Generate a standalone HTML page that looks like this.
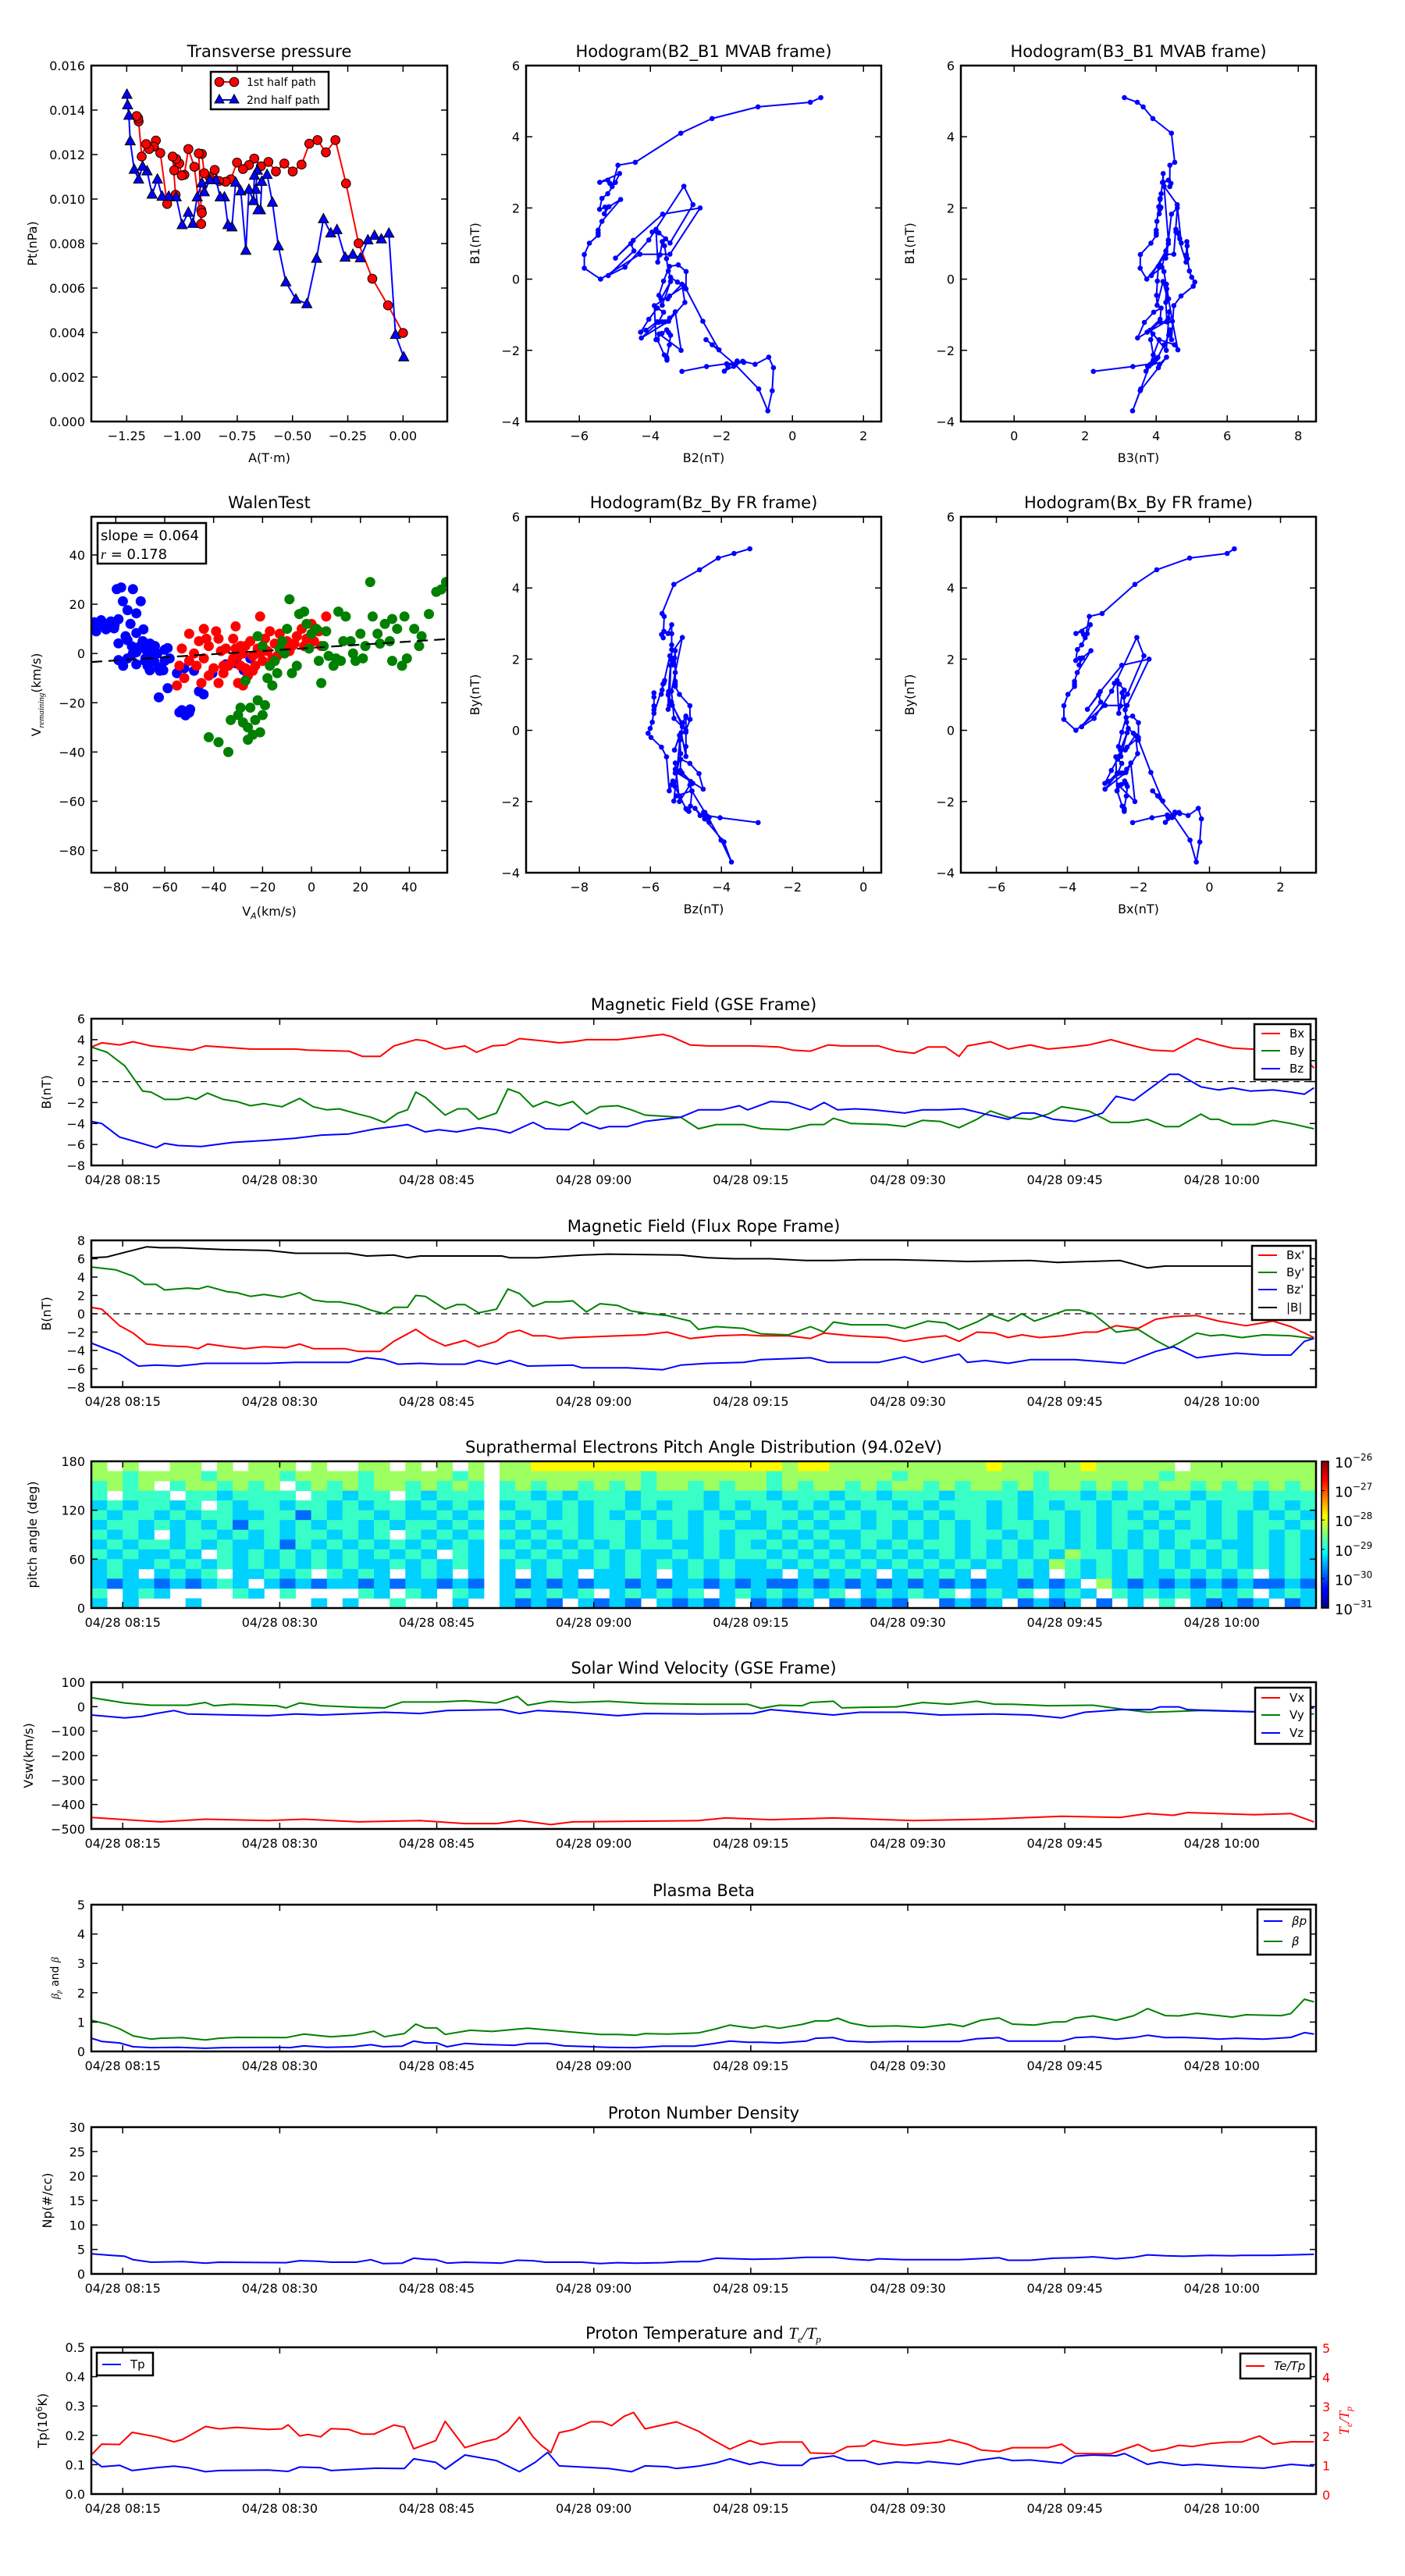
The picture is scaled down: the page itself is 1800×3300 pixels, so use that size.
<!DOCTYPE html>
<html><head><meta charset="utf-8"><title>Flux rope analysis</title>
<style>
html,body{margin:0;padding:0;background:#fff;}
svg{display:block;font-family:"DejaVu Sans","Liberation Sans",sans-serif;}
</style></head>
<body>
<svg id="fig" xmlns="http://www.w3.org/2000/svg" width="1800" height="3300" viewBox="0 0 1800 3300">
<defs id="defs">
<linearGradient id="jetGrad" x1="0" y1="1" x2="0" y2="0">
<stop offset="0" stop-color="#000080"/><stop offset="0.11" stop-color="#0000ff"/><stop offset="0.125" stop-color="#0000ff"/>
<stop offset="0.34" stop-color="#00d0ff"/><stop offset="0.375" stop-color="#00ffff"/><stop offset="0.5" stop-color="#80ff80"/>
<stop offset="0.625" stop-color="#ffff00"/><stop offset="0.75" stop-color="#ff8000"/><stop offset="0.875" stop-color="#ff0000"/><stop offset="1" stop-color="#800000"/>
</linearGradient>
</defs>
<rect x="0" y="0" width="1800" height="3300" fill="#fff"/>
</svg>
<script>
// ---------------- DATA ----------------
// time series: [minutes after 08:12, value]
const gseBx=[[0,3.3],[1,3.7],[2.7,3.5],[4,3.8],[5.7,3.4],[9.6,3.0],[10.9,3.4],[15.2,3.1],[19.5,3.1],[20.7,3.0],[24.6,2.9],[25.9,2.4],[27.6,2.4],[28.9,3.4],[31,4.0],[31.9,3.9],[33.8,3.1],[35.7,3.4],[36.8,2.8],[38.3,3.4],[39.6,3.5],[40.9,4.1],[43,3.9],[44.7,3.7],[46,3.8],[47.3,4.0],[50.3,4.0],[54.6,4.5],[55.4,4.3],[57.2,3.5],[58.9,3.4],[61.4,3.4],[63.2,3.4],[65.7,3.3],[67,3.0],[68.7,2.9],[70.4,3.5],[71.7,3.4],[75.2,3.4],[76.9,2.9],[78.6,2.7],[79.9,3.3],[81.6,3.3],[82.9,2.4],[83.7,3.4],[85.9,3.8],[87.6,3.1],[89.7,3.5],[91.4,3.1],[93.6,3.3],[95.3,3.5],[97.4,4.0],[99.6,3.4],[101.3,3.0],[103.4,2.9],[105.6,4.1],[107.7,3.5],[109,3.2],[110.7,3.1],[114.6,3.1],[115.9,2.2],[116.8,1.3]];
const gseBy=[[0,3.3],[1.5,2.8],[3.2,1.5],[4.9,-0.9],[5.7,-1.0],[7,-1.7],[8.3,-1.7],[9.2,-1.5],[10,-1.7],[11.1,-1.1],[12.6,-1.7],[13.9,-1.9],[15.2,-2.3],[16.5,-2.1],[18.2,-2.4],[19.9,-1.6],[21.2,-2.4],[22.5,-2.7],[23.7,-2.6],[25.5,-3.1],[26.7,-3.4],[28,-3.9],[29.3,-3.0],[30.2,-2.7],[31,-1.0],[31.9,-1.5],[33.8,-3.2],[35,-2.6],[35.9,-2.6],[37,-3.6],[38.7,-3.0],[39.8,-0.7],[40.9,-1.1],[42.2,-2.4],[43.4,-1.9],[44.7,-2.3],[46,-1.9],[47.3,-3.1],[48.6,-2.4],[50.3,-2.3],[51.6,-2.7],[52.9,-3.2],[54.6,-3.3],[56.3,-3.4],[58,-4.5],[59.7,-4.1],[62.3,-4.1],[64,-4.5],[66.6,-4.6],[68.7,-4.1],[70,-4.1],[70.9,-3.5],[72.6,-4.0],[76,-4.1],[77.7,-4.3],[79.4,-3.7],[81.1,-3.8],[82.9,-4.4],[84.6,-3.6],[85.9,-2.8],[87.6,-3.4],[89.7,-3.6],[91.4,-3.1],[92.7,-2.4],[94,-2.6],[95.3,-2.8],[97.4,-3.9],[99.1,-3.9],[100.9,-3.6],[102.6,-4.3],[103.9,-4.3],[106,-3.1],[106.9,-3.6],[107.7,-3.6],[109,-4.1],[111.1,-4.1],[112.9,-3.7],[114.6,-4.0],[116.8,-4.5]];
const gseBz=[[0,-3.8],[1,-4.0],[2.7,-5.3],[4.5,-5.8],[6.2,-6.3],[7,-5.9],[8.3,-6.1],[10.5,-6.2],[13.5,-5.8],[16.9,-5.6],[19.5,-5.4],[22,-5.1],[24.6,-5.0],[27.2,-4.5],[28.9,-4.3],[30.2,-4.1],[31.9,-4.8],[33.2,-4.6],[34.9,-4.8],[37,-4.4],[38.7,-4.6],[40,-4.9],[42.2,-3.9],[43.4,-4.5],[45.6,-4.6],[46.9,-3.9],[48.6,-4.5],[49.4,-4.3],[51.2,-4.3],[52.9,-3.8],[54.6,-3.6],[56.3,-3.4],[58,-2.7],[60.2,-2.7],[61.9,-2.3],[62.7,-2.7],[64.9,-1.9],[66.6,-2.0],[68.7,-2.7],[70,-2.0],[71.3,-2.7],[73,-2.6],[74.7,-2.7],[77.7,-3.0],[79.4,-2.7],[81.1,-2.7],[83.3,-2.6],[85.4,-3.1],[87.6,-3.6],[88.9,-3.0],[90.1,-3.0],[91.9,-3.6],[94,-3.8],[96.6,-3.0],[97.9,-1.4],[99.6,-1.8],[103,0.7],[103.9,0.7],[106,-0.5],[107.7,-0.8],[109,-0.6],[110.7,-0.9],[112.9,-0.8],[114.6,-1.0],[115.9,-1.2],[116.8,-0.6]];
const frB=[[0,6.1],[1.5,6.2],[3.2,6.7],[5.3,7.3],[6.6,7.2],[8.3,7.2],[12.6,7.0],[16.9,6.9],[19.5,6.6],[24.6,6.6],[26.3,6.3],[28.9,6.4],[30.2,6.1],[31.4,6.3],[35.7,6.3],[39.2,6.3],[40,6.1],[42.6,6.1],[46.9,6.4],[49.4,6.5],[56.3,6.4],[58.9,6.1],[61.4,6.0],[64.9,6.0],[68.3,5.8],[70.9,5.8],[73.4,5.9],[76.9,5.9],[80.3,5.8],[83.7,5.7],[89.7,5.8],[92.3,5.6],[98.3,5.8],[100.9,5.0],[102.6,5.2],[107.7,5.2],[112.9,5.2],[116.8,5.2]];
const frBy=[[0,5.1],[2.3,4.8],[4,4.1],[5.1,3.2],[6.2,3.2],[7,2.6],[9.2,2.8],[10.2,2.7],[11.1,3.0],[13,2.4],[13.9,2.3],[15.2,1.9],[16.5,2.1],[18.2,1.8],[19.9,2.3],[21.2,1.5],[22.5,1.3],[23.7,1.3],[25.5,0.9],[26.7,0.4],[28,0.0],[28.9,0.7],[30.2,0.7],[31,2.0],[31.9,1.9],[33.8,0.5],[34.9,1.0],[35.7,1.0],[37,0.1],[38.7,0.5],[39.8,2.7],[40.9,2.2],[42.2,0.8],[43.4,1.3],[44.7,1.3],[46,1.4],[47.3,0.2],[48.6,1.1],[50.3,0.9],[51.6,0.3],[53.3,0.0],[55,-0.2],[57.2,-0.8],[58,-1.7],[59.7,-1.4],[62.3,-1.6],[64,-2.2],[66.6,-2.3],[68.7,-1.4],[70,-2.0],[70.9,-0.9],[72.6,-1.2],[76,-1.2],[77.7,-1.6],[79.9,-0.8],[81.6,-1.0],[82.9,-1.7],[84.6,-0.9],[85.9,-0.1],[87.6,-0.8],[88.9,0.0],[90.1,-0.8],[91.4,-0.3],[93.1,0.4],[94.4,0.4],[95.7,0.0],[97.9,-2.0],[100,-1.7],[101.7,-2.9],[103,-3.7],[103.9,-3.2],[105.6,-2.1],[106.9,-2.4],[108.1,-2.3],[109.9,-2.6],[112,-2.3],[114.6,-2.4],[116.8,-2.7]];
const frBx=[[0,0.7],[1,0.5],[2.7,-1.3],[4,-2.1],[5.3,-3.3],[7,-3.5],[9.2,-3.6],[10.2,-3.8],[11.1,-3.3],[13,-3.6],[14.7,-3.8],[16.5,-3.6],[18.6,-3.7],[19.9,-3.3],[21.2,-3.8],[24.2,-3.8],[25.5,-4.1],[27.6,-4.1],[28.9,-3.0],[31,-1.7],[32.3,-2.7],[33.8,-3.5],[35.7,-2.9],[37,-3.6],[38.7,-3.0],[39.8,-2.1],[40.9,-1.8],[42.2,-2.4],[43.4,-2.4],[44.7,-2.7],[46,-2.6],[50.3,-2.4],[52.9,-2.3],[55,-2.0],[57.2,-2.7],[59.7,-2.4],[62.3,-2.3],[64,-2.4],[66.6,-2.4],[68.7,-2.7],[70,-2.1],[72.6,-2.4],[76,-2.6],[77.7,-3.0],[79.9,-2.6],[81.6,-2.4],[82.9,-3.0],[84.6,-2.0],[86.3,-2.1],[87.6,-2.6],[88.9,-2.3],[90.6,-2.6],[92.7,-2.4],[94.9,-2.0],[96.1,-2.0],[97.9,-1.3],[100,-1.6],[101.7,-0.6],[103.4,-0.3],[105.6,-0.2],[107.7,-0.8],[110.3,-1.3],[112.9,-0.8],[114.6,-1.4],[116.8,-2.6]];
const frBz=[[0,-3.2],[2.7,-4.4],[4.5,-5.7],[6.2,-5.6],[8.3,-5.7],[10.9,-5.4],[16.9,-5.4],[19.5,-5.3],[24.6,-5.3],[26.3,-4.8],[28,-5.0],[29.3,-5.5],[31.4,-5.4],[33.2,-5.5],[35.7,-5.5],[37,-5.1],[38.7,-5.5],[40,-5.1],[41.7,-5.7],[46,-5.6],[46.9,-5.9],[51.2,-5.9],[54.6,-6.1],[56.3,-5.6],[58.9,-5.4],[62.3,-5.3],[64,-5.0],[68.7,-4.8],[70.4,-5.3],[75.2,-5.3],[77.7,-4.7],[79.4,-5.3],[82.9,-4.4],[83.7,-5.3],[85.4,-5.1],[87.6,-5.4],[89.7,-5.0],[94,-5.0],[98.7,-5.4],[101.7,-4.1],[103.4,-3.6],[105.6,-4.8],[107.7,-4.5],[109.4,-4.3],[112,-4.5],[114.6,-4.5],[115.9,-3.0],[116.8,-2.7]];
const vswVx=[[0,-453],[4,-464],[6.6,-471],[10.9,-460],[16.9,-466],[20.3,-460],[25.5,-471],[31.4,-466],[35.7,-478],[38.7,-478],[40.9,-466],[43.9,-482],[46,-471],[58,-466],[60.6,-455],[64.9,-462],[70.9,-455],[78.6,-466],[85.4,-460],[92.7,-448],[98.3,-453],[100.9,-437],[103.4,-444],[104.7,-433],[111.1,-442],[114.6,-437],[116.8,-471]];
const vswVy=[[0,37],[3.2,15],[5.7,6],[9.2,6],[10.9,17],[11.7,4],[13.5,10],[17.7,4],[18.6,-5],[19.9,15],[22,4],[25.5,-3],[28,-5],[29.7,19],[33.2,19],[35.7,24],[38.7,15],[40.7,42],[41.7,6],[43.9,22],[46,17],[49.4,22],[52.9,13],[58,10],[62.7,10],[64,-7],[65.7,6],[67.9,4],[68.7,17],[70.9,22],[71.7,-5],[73.4,-3],[76.9,-1],[79.4,17],[82,10],[84.6,22],[86.3,10],[88,10],[91.4,4],[95.7,6],[97.9,-7],[100.9,-23],[102.6,-21],[106,-16],[111.1,-21],[116.8,-30]];
const vswVz=[[0,-34],[3.2,-46],[4.9,-39],[6.2,-28],[7.9,-16],[9.2,-30],[13.5,-34],[16.9,-37],[19.5,-30],[22,-34],[25.5,-28],[28,-23],[31.4,-28],[34,-16],[39.2,-12],[40.9,-28],[42.6,-16],[46,-23],[50.3,-37],[52.9,-28],[58,-30],[63.2,-28],[64.9,-12],[70.9,-34],[73.4,-23],[77.7,-23],[81.1,-34],[86.3,-30],[89.7,-34],[92.7,-46],[94.9,-23],[98.3,-12],[101.3,-12],[102.1,-1],[103.9,-1],[104.7,-12],[111.1,-21],[116.8,-5]];
const betaTotal=[[0,1.06],[1.5,0.93],[2.7,0.77],[4,0.53],[5.7,0.42],[6.6,0.45],[8.7,0.47],[10.9,0.39],[12.2,0.45],[13.9,0.48],[18.6,0.47],[20.3,0.59],[22.9,0.5],[25,0.55],[27,0.69],[28,0.5],[29.9,0.61],[31,0.93],[31.9,0.8],[33,0.8],[33.8,0.58],[36.2,0.72],[38.3,0.68],[40,0.74],[41.7,0.79],[43.4,0.74],[46,0.66],[48.6,0.58],[50.3,0.58],[52,0.55],[52.9,0.61],[55,0.59],[58,0.63],[59.7,0.77],[61,0.9],[61.9,0.85],[63.2,0.79],[64.4,0.87],[65.7,0.79],[67.9,0.92],[69.2,1.04],[70.4,1.04],[71.3,1.13],[72.6,0.96],[74.3,0.85],[76.9,0.87],[79.4,0.82],[82,0.93],[83.3,0.85],[85,1.06],[86.7,1.14],[88,0.93],[90.1,0.9],[91.9,1.0],[93.1,1.01],[94,1.14],[95.7,1.21],[97.9,1.06],[99.6,1.22],[100.9,1.46],[102.6,1.22],[103.9,1.21],[105.6,1.3],[107.7,1.22],[109,1.17],[110.3,1.25],[113.7,1.22],[114.6,1.29],[115.9,1.78],[116.8,1.69]];
const betaProton=[[0,0.45],[1,0.34],[2.7,0.29],[4,0.16],[5.7,0.13],[8.3,0.14],[10.9,0.11],[12.6,0.13],[17.7,0.14],[19,0.13],[20.3,0.19],[22.5,0.14],[25,0.16],[26.7,0.23],[27.9,0.16],[29.7,0.18],[30.8,0.35],[31.9,0.29],[33,0.29],[34,0.16],[35.7,0.27],[37.4,0.24],[40.4,0.21],[41.7,0.27],[43.6,0.27],[45.2,0.19],[49.4,0.14],[52,0.13],[54.6,0.18],[57.6,0.18],[59.3,0.26],[61,0.35],[62.7,0.31],[64,0.31],[65.7,0.29],[68.3,0.35],[69.2,0.45],[70.9,0.47],[72.2,0.35],[74.3,0.32],[76.9,0.34],[80.3,0.34],[82.9,0.34],[84.6,0.43],[86.7,0.47],[87.6,0.35],[89.7,0.35],[92.7,0.35],[94,0.47],[95.7,0.5],[97.9,0.42],[99.6,0.47],[100.9,0.55],[102.6,0.47],[104.3,0.48],[106.4,0.45],[107.7,0.42],[109.4,0.45],[112,0.42],[114.6,0.48],[115.9,0.64],[116.8,0.59]];
const densityNp=[[0,4.1],[1.9,3.8],[3.2,3.6],[4,2.9],[5.7,2.4],[8.7,2.5],[10.9,2.2],[12.2,2.4],[18.6,2.3],[19.9,2.7],[21.6,2.6],[22.9,2.4],[25.3,2.4],[26.7,2.9],[27.9,2.1],[29.7,2.2],[30.8,3.2],[31.9,3.0],[32.9,2.9],[34,2.2],[35.7,2.4],[39.2,2.2],[40.7,2.8],[42.2,2.7],[43.4,2.4],[46.9,2.4],[48.6,2.1],[50.3,2.3],[52,2.2],[54.6,2.3],[56.3,2.5],[58,2.5],[59.7,3.2],[63.2,3.0],[65.7,3.1],[68.3,3.4],[70.9,3.4],[72.6,3.0],[74.3,2.8],[75.2,3.1],[77.7,2.9],[80.3,2.9],[82.9,2.9],[84.6,3.1],[86.7,3.3],[87.6,2.8],[89.7,2.8],[91.9,3.2],[94,3.3],[95.7,3.5],[97.9,3.1],[99.6,3.4],[100.9,3.9],[102.6,3.7],[104.3,3.6],[106.9,3.8],[109,3.7],[109.9,3.8],[112.9,3.8],[116.8,4.0]];
const tempTp=[[0,0.12],[1,0.093],[2.7,0.098],[3.9,0.08],[6.2,0.09],[7.9,0.095],[9.2,0.09],[10.9,0.076],[12.2,0.08],[16.9,0.082],[18.8,0.077],[19.9,0.092],[21.9,0.09],[22.9,0.08],[27.2,0.088],[29.9,0.087],[30.8,0.12],[32.9,0.108],[33.8,0.085],[35.7,0.133],[38.7,0.114],[40.9,0.076],[42.4,0.108],[43.6,0.142],[44.7,0.096],[49.4,0.087],[51.6,0.076],[52.9,0.096],[55,0.093],[55.9,0.087],[58,0.095],[59.7,0.106],[61,0.12],[62.9,0.101],[64,0.109],[65.7,0.098],[67.9,0.098],[68.7,0.12],[70.9,0.13],[72.2,0.114],[73.9,0.114],[75.2,0.101],[76.9,0.109],[79,0.105],[79.9,0.111],[82.9,0.101],[84.6,0.114],[86.7,0.124],[88,0.114],[89.7,0.116],[92.7,0.105],[94,0.129],[95.7,0.133],[97.9,0.13],[98.7,0.138],[100.9,0.101],[102.1,0.109],[104.3,0.098],[105.6,0.101],[109,0.093],[112,0.088],[114.6,0.101],[116.8,0.095]];
const tempRatio=[[0,1.33],[1,1.7],[2.7,1.69],[3.9,2.1],[6.2,1.95],[7.9,1.78],[8.7,1.86],[10.9,2.3],[12.2,2.22],[13.9,2.27],[16.9,2.2],[18.2,2.22],[18.8,2.36],[19.9,1.98],[20.7,2.03],[21.9,1.95],[22.9,2.23],[24.6,2.2],[25.9,2.04],[27,2.04],[28.9,2.35],[29.9,2.28],[30.8,1.54],[32.9,1.82],[33.8,2.48],[35.7,1.58],[37.4,1.77],[38.7,1.88],[39.8,2.14],[40.9,2.62],[42.2,1.95],[43,1.66],[43.9,1.41],[44.7,2.09],[46,2.19],[47.7,2.46],[48.8,2.46],[49.7,2.33],[50.9,2.65],[51.8,2.78],[52.9,2.22],[55.9,2.46],[58,2.14],[59.3,1.86],[61,1.53],[62.9,1.82],[64,1.69],[65.7,1.77],[67.9,1.77],[68.7,1.4],[70.9,1.38],[72.2,1.61],[73.9,1.64],[74.7,1.82],[76,1.72],[77.7,1.66],[81.1,1.77],[82,1.85],[83.7,1.7],[85,1.5],[86.7,1.45],[88,1.58],[91.4,1.58],[92.7,1.7],[94,1.38],[97.4,1.37],[98.7,1.53],[100,1.69],[101.3,1.46],[102.6,1.53],[103.9,1.66],[105.2,1.62],[106.9,1.72],[108.6,1.77],[109.9,1.77],[111.6,1.98],[112.9,1.7],[114.6,1.78],[116.8,1.78]];
// transverse pressure: [A (T·m), Pt (nPa)]
const ptFirstHalf=[[0,0.00398],[-0.068,0.00522],[-0.139,0.00642],[-0.201,0.00801],[-0.258,0.0107],[-0.306,0.01265],[-0.349,0.0121],[-0.387,0.01265],[-0.424,0.01249],[-0.459,0.01155],[-0.499,0.01124],[-0.537,0.0116],[-0.575,0.01124],[-0.609,0.01167],[-0.643,0.01147],[-0.673,0.01182],[-0.697,0.01153],[-0.724,0.01135],[-0.751,0.01164],[-0.779,0.01089],[-0.802,0.01078],[-0.832,0.01081],[-0.852,0.01131],[-0.876,0.011],[-0.899,0.01116],[-0.91,0.01203],[-0.924,0.01205],[-0.913,0.00951],[-0.91,0.00938],[-0.913,0.00888],[-0.944,0.01145],[-0.971,0.01225],[-0.989,0.01109],[-1.001,0.01106],[-1.012,0.0116],[-1.026,0.0118],[-1.035,0.01129],[-1.042,0.01191],[-1.029,0.01019],[-1.067,0.00978],[-1.098,0.01207],[-1.118,0.01263],[-1.128,0.01236],[-1.148,0.01225],[-1.162,0.01247],[-1.182,0.01191],[-1.196,0.01349],[-1.198,0.01363],[-1.205,0.01373]];
const ptSecondHalf=[[0.003,0.0029],[-0.034,0.00391],[-0.064,0.00846],[-0.098,0.0082],[-0.129,0.00836],[-0.159,0.00816],[-0.193,0.00735],[-0.227,0.00751],[-0.262,0.00738],[-0.299,0.00862],[-0.327,0.00847],[-0.36,0.00911],[-0.391,0.00733],[-0.435,0.00529],[-0.485,0.0055],[-0.53,0.00627],[-0.564,0.00789],[-0.591,0.00985],[-0.615,0.0111],[-0.639,0.01079],[-0.645,0.00951],[-0.656,0.00951],[-0.666,0.01043],[-0.659,0.01129],[-0.672,0.01106],[-0.677,0.00992],[-0.697,0.01043],[-0.711,0.00769],[-0.734,0.01036],[-0.757,0.01075],[-0.774,0.00874],[-0.792,0.00884],[-0.808,0.01009],[-0.827,0.01009],[-0.846,0.01086],[-0.874,0.01086],[-0.899,0.01032],[-0.91,0.01072],[-0.931,0.01009],[-0.951,0.0089],[-0.971,0.0094],[-0.999,0.00884],[-1.026,0.01009],[-1.06,0.01012],[-1.09,0.01012],[-1.111,0.01089],[-1.135,0.01021],[-1.158,0.01126],[-1.178,0.01147],[-1.196,0.01089],[-1.216,0.01133],[-1.234,0.01261],[-1.24,0.01376],[-1.246,0.01423],[-1.249,0.0147]];
// Walen test: [V_A, V_remaining]
const walenBlue=[[-88.8,12.7],[-87,11.5],[-85.5,12.7],[-83.3,10.7],[-81.8,12.2],[-89.5,10.5],[-86,13.5],[-84,9.8],[-80.5,11.5],[-79.6,26.1],[-77.8,26.8],[-73,26.1],[-77.1,21.2],[-75.2,17.6],[-71.6,16.3],[-69.8,21.2],[-78.9,13.9],[-80.7,10.2],[-78.9,4.1],[-75.2,5.4],[-73.4,2.9],[-71.6,8.3],[-68.7,9.8],[-78.9,-2.7],[-75.2,-2],[-71.6,0.5],[-67.9,1.7],[-66.1,-0.7],[-64.3,-3.2],[-62.4,-5.6],[-60.6,-6.8],[-58.8,2.2],[-66.1,-6.8],[-62.4,-17.8],[-58.8,-14.1],[-54,-23.9],[-51.5,-25.1],[-49.6,-22.7],[-46,-15.4],[-44.1,-16.6],[-40.5,-8],[-35,-4.4],[-30.6,-2],[-27.7,-6.8],[-71.6,-4.4],[-67.9,-2],[-70,3],[-65,2],[-63,0],[-60,1.5],[-76,7],[-74,12],[-68,-3],[-62,-7],[-55,-8],[-52,-6],[-82,13],[-85,11],[-88,9],[-73,0],[-64,3],[-58,-2],[-53,-23],[-50,-24],[-48,-7],[-31,-4],[-25,-2],[-60,-3],[-66,4],[-77,-5],[-69,5],[-67,-5]];
const walenRed=[[-55,-13],[-52,-10],[-54,-5],[-50,-3],[-48,0],[-50,8],[-46,5],[-44,-2],[-42,3],[-40,-6],[-38,-12],[-36,-8],[-35,2],[-33,-4],[-32,6],[-30,-12],[-29,-5],[-28,0],[-27,3],[-26,-8],[-25,5],[-24,-1],[-22,2],[-21,15],[-20,-3],[-19,6],[-18,1],[-16,-2],[-15,4],[-13,8],[-12,2],[-10,5],[-8,3],[-6,7],[-4,10],[-2,6],[0,12],[3,9],[6,15],[4,3],[-45,-12],[-42,-9],[-37,1],[-31,2],[-30,-1],[-27,-6],[-23,-5],[-34,-5],[-17,9],[-9,1],[-3,3],[-47,-5],[-39,9],[-43,6],[-26,-9],[-28,-13],[-14,-1],[-7,4],[1,5],[-53,2],[-36,-5],[-32,-2],[-29,3],[-24,-7],[-21,0],[-31,11],[-44,10],[-38,6]];
const walenGreen=[[-42,-34],[-38,-36],[-34,-40],[-30,-25],[-28,-28],[-26,-30],[-25,-22],[-23,-27],[-22,-19],[-20,-25],[-18,-10],[-17,-5],[-16,-13],[-15,-3],[-14,-8],[-12,5],[-10,10],[-8,-8],[-6,-5],[-5,16],[-3,17],[-2,12],[0,8],[2,10],[3,-3],[4,-12],[5,3],[7,-1],[9,-5],[10,-2],[12,-3],[11,17],[14,15],[16,5],[18,-3],[20,8],[22,3],[25,15],[24,29],[27,8],[30,12],[32,5],[33,-3],[35,10],[37,-5],[38,15],[42,10],[45,7],[48,16],[51,25],[53,26],[55,29],[-19,-21],[-24,-33],[-21,-32],[-29,-22],[-11,0],[-13,2],[-1,2],[6,9],[13,5],[17,0],[21,-2],[28,4],[33,14],[39,-2],[44,3],[-20,3],[-27,-11],[-9,22],[-22,7],[-26,-35],[-33,-27]];
const walenSlope=0.064;
const walenIntercept=2.3;
const walenR=0.178;
// MVAB frame from flux-rope components (B1=By', B2/B3 from Bx',Bz')
const mvabB2=[1.37,0.05];
const mvabB3=[0.23,-0.92];
// PAD: rows 180->0 deg, each char = log10 level index (value -31 + d*0.5), '.' = no data
const padRows=[
"5.5..55.5.555.5..55.5.5.5.5566666666666666665665555555555655555655555.55555555",
"5545555455554555545555545.5555555554555555545555555455555555455555554555555555",
"4545.4554545.454545545454.4545545454554545545455454554545545455454545545454545",
"4.444.4434444.44344.43444.4434344434444344434443443444344443444343444434443444",
"3434434.43443443434434343.3443434434344343443434344343444343434434434343443434",
"4344343443344243443433434.4343434343443434344343434434344343443434343443434343",
"3443434342443434434344343.3434434434343443343434434343434344343434434343434434",
"4343.34434343443434.43434.4343434434343434434343344343434434343434343443434343",
"3434434343342434343434343.3434343434433434343434343434434343443434343434334343",
"4343343.43434343434343.43.4343434343343434434343434343434343435443434343434343",
"3433434343434343433434343.3434334343434343343434343434343434354343434343434343",
"343.3434.33434.4343.343.3.3.343.3343.3434333.34343.34343.3343.434343343434.343",
"3233232343.32323323233232.3232323323233232322323232323232332323.53232323232232",
"4.343....43.4....43.43.43.343434.343434.34343434.343434.3434.343.434343434.343",
"3.3...3.......3.3..4...3..3232.3232.32323.2323.23232..2323.2323.2.3.4.32323.23"];
const padBinMinutes=1.5;
const timeTickMinutes=[3,18,33,48,63,78,93,108];
const timeTickLabels=["04/28 08:15","04/28 08:30","04/28 08:45","04/28 09:00","04/28 09:15","04/28 09:30","04/28 09:45","04/28 10:00"];
const cbarExponents=[-26,-27,-28,-29,-30,-31];

// ---------------- DRAWING ----------------
const NS='http://www.w3.org/2000/svg';
const svg=document.getElementById('fig');
const defs=document.getElementById('defs');
const RED='#ff0000',GREEN='#008000',BLUE='#0000ff';
const MINUS='\u2212';
let clipN=0;
function mk(tag,attrs,parent){const e=document.createElementNS(NS,tag);for(const k in attrs)e.setAttribute(k,attrs[k]);(parent||svg).appendChild(e);return e;}
function fmt(v,d){let s=v.toFixed(d);if(v<0&&parseFloat(s)!==0)s=MINUS+s.slice(1);if(parseFloat(s)===0)s=(0).toFixed(d);return s;}
function txt(str,x,y,o,parent){const t=mk('text',{x:x,y:y,'font-size':o.size||16,'text-anchor':o.anchor||'middle',fill:o.fill||'#000'},parent);if(o.rot)t.setAttribute('transform',`rotate(${o.rot} ${x} ${y})`);if(o.style)t.setAttribute('font-style',o.style);t.textContent=str;return t;}
function axes(o){
  const g=mk('g',{});
  
  
  const sx=v=>o.x0+(v-o.xmin)/(o.xmax-o.xmin)*(o.x1-o.x0);
  const sy=v=>o.y1-(v-o.ymin)/(o.ymax-o.ymin)*(o.y1-o.y0);
  const id='clip'+(clipN++);
  const cp=mk('clipPath',{id:id},defs);
  mk('rect',{x:o.x0,y:o.y0,width:o.x1-o.x0,height:o.y1-o.y0},cp);
  const data=mk('g',{'clip-path':`url(#${id})`},g);
  return {g,data,sx,sy,o};
}
function frame(A){const o=A.o;const r=mk('rect',{x:o.x0,y:o.y0,width:o.x1-o.x0,height:o.y1-o.y0,fill:'none',stroke:'#000','stroke-width':2.5},A.g);
  
  }
function xticks(A,vals,labels,noLabels){const o=A.o;vals.forEach((v,i)=>{const x=A.sx(v);
  mk('line',{x1:x,x2:x,y1:o.y1,y2:o.y1-8,stroke:'#000','stroke-width':1.5},A.g);
  mk('line',{x1:x,x2:x,y1:o.y0,y2:o.y0+8,stroke:'#000','stroke-width':1.5},A.g);
  if(!noLabels){const t=txt(labels[i],x,o.y1+24,{size:16},A.g);
  
  }});}
function yticks(A,vals,labels,opt){opt=opt||{};const o=A.o;vals.forEach((v,i)=>{const y=A.sy(v);
  mk('line',{x1:o.x0,x2:o.x0+8,y1:y,y2:y,stroke:'#000','stroke-width':1.5},A.g);
  mk('line',{x1:o.x1,x2:o.x1-8,y1:y,y2:y,stroke:'#000','stroke-width':1.5},A.g);
  const t=txt(labels[i],o.x0-8,y+6,{size:16,anchor:'end'},A.g);
  
  });}
function range(a,b,s){const r=[];for(let v=a;v<=b+1e-9;v+=s)r.push(+v.toFixed(6));return r;}
function title(A,str){const t=txt(str,(A.o.x0+A.o.x1)/2,A.o.y0-11,{size:21},A.g);
  
  return t;}
function xlabel(A,str,dy){const t=txt(str,(A.o.x0+A.o.x1)/2,A.o.y1+(dy||54),{size:16},A.g);
  
  return t;}
function ylabel(A,str,x){const y=(A.o.y0+A.o.y1)/2;const t=txt(str,x,y,{size:16,rot:-90},A.g);
  
  return t;}
function polyline(A,pts,color,w,name,dash){const d=pts.map(p=>A.sx(p[0]).toFixed(1)+','+A.sy(p[1]).toFixed(1)).join(' ');
  const l=mk('polyline',{points:d,fill:'none',stroke:color,'stroke-width':w||2,'stroke-linejoin':'round'},A.data);
  if(dash)l.setAttribute('stroke-dasharray',dash);
  
  return l;}
function interp(series,t){if(t<=series[0][0])return series[0][1];for(let i=1;i<series.length;i++){if(t<=series[i][0]){const a=series[i-1],b=series[i];return a[1]+(b[1]-a[1])*(t-a[0])/(b[0]-a[0]);}}return series[series.length-1][1];}
function legendBox(x,y,w,h,parent){const r=mk('rect',{x,y,width:w,height:h,fill:'#fff',stroke:'#000','stroke-width':2.5},parent);
  
  }
function legendLine(x,y,color,label,parent,italic){mk('line',{x1:x,x2:x+24,y1:y,y2:y,stroke:color,'stroke-width':2},parent);
  const t=txt(label,x+36,y+5,{size:15,anchor:'start',style:italic?'italic':null},parent);
  
  }

// ---- Transverse pressure ----
(function(){
  const A=axes({name:'transverse-pressure-chart',x0:117,x1:573,y0:84,y1:540,xmin:-1.41,xmax:0.2,ymin:0,ymax:0.016});
  polyline(A,ptFirstHalf,RED,2,'first-half-path-line');
  ptFirstHalf.forEach(p=>{const c=mk('circle',{cx:A.sx(p[0]),cy:A.sy(p[1]),r:5.8,fill:RED,stroke:'#000','stroke-width':1},A.data);
    
    });
  polyline(A,ptSecondHalf,BLUE,2,'second-half-path-line');
  ptSecondHalf.forEach(p=>{const x=A.sx(p[0]),y=A.sy(p[1]);const tr=mk('polygon',{points:`${x},${y-7} ${x-6.5},${y+5} ${x+6.5},${y+5}`,fill:BLUE,stroke:'#000','stroke-width':1},A.data);
    
    });
  xticks(A,[-1.25,-1,-0.75,-0.5,-0.25,0],['−1.25','−1.00','−0.75','−0.50','−0.25','0.00']);
  const yv=range(0,0.016,0.002);yticks(A,yv,yv.map(v=>v.toFixed(3)));
  frame(A);title(A,'Transverse pressure');xlabel(A,'A(T·m)',52);ylabel(A,'Pt(nPa)',47);
  const lg=mk('g',{},A.g);
  legendBox(270,92,151,48,lg);
  mk('line',{x1:280,x2:301,y1:105,y2:105,stroke:RED,'stroke-width':2},lg);
  mk('circle',{cx:281,cy:105,r:5.8,fill:RED,stroke:'#000'},lg);mk('circle',{cx:300,cy:105,r:5.8,fill:RED,stroke:'#000'},lg);
  txt('1st half path',316,110,{size:14,anchor:'start'},lg);
  mk('line',{x1:280,x2:301,y1:128,y2:128,stroke:BLUE,'stroke-width':2},lg);
  mk('polygon',{points:'281,121 275,132 287,132',fill:BLUE,stroke:'#000'},lg);mk('polygon',{points:'300,121 294,132 306,132',fill:BLUE,stroke:'#000'},lg);
  txt('2nd half path',316,133,{size:14,anchor:'start'},lg);
})();

// ---- Hodograms ----
const hodoTimes=range(0,116.8,1);
function hodogram(cfg,xs,ys){
  const A=axes(cfg);
  const pts=hodoTimes.map(t=>[xs(t),ys(t)]);
  polyline(A,pts,BLUE,2,'hodogram-path');
  pts.forEach(p=>{const c=mk('circle',{cx:A.sx(p[0]),cy:A.sy(p[1]),r:3.3,fill:BLUE},A.data);
    
    });
  const xv=range(Math.ceil(cfg.xmin/2)*2,cfg.xmax,2);xticks(A,xv,xv.map(v=>fmt(v,0)));
  const yv=range(-4,6,2);yticks(A,yv,yv.map(v=>fmt(v,0)));
  frame(A);title(A,cfg.title);xlabel(A,cfg.xl,52);ylabel(A,cfg.yl,cfg.x0-60);
}
const fB1=t=>interp(frBy,t);
const fB2=t=>mvabB2[0]*interp(frBx,t)+mvabB2[1]*interp(frBz,t);
const fB3=t=>mvabB3[0]*interp(frBx,t)+mvabB3[1]*interp(frBz,t);
hodogram({name:'hodogram-b2-b1',title:'Hodogram(B2_B1 MVAB frame)',xl:'B2(nT)',yl:'B1(nT)',x0:674,x1:1129,y0:84,y1:540,xmin:-7.5,xmax:2.5,ymin:-4,ymax:6},fB2,fB1);
hodogram({name:'hodogram-b3-b1',title:'Hodogram(B3_B1 MVAB frame)',xl:'B3(nT)',yl:'B1(nT)',x0:1231,x1:1686,y0:84,y1:540,xmin:-1.5,xmax:8.5,ymin:-4,ymax:6},fB3,fB1);
hodogram({name:'hodogram-bz-by',title:'Hodogram(Bz_By FR frame)',xl:'Bz(nT)',yl:'By(nT)',x0:674,x1:1129,y0:662,y1:1118,xmin:-9.5,xmax:0.5,ymin:-4,ymax:6},t=>interp(frBz,t),fB1);
hodogram({name:'hodogram-bx-by',title:'Hodogram(Bx_By FR frame)',xl:'Bx(nT)',yl:'By(nT)',x0:1231,x1:1686,y0:662,y1:1118,xmin:-7,xmax:3,ymin:-4,ymax:6},t=>interp(frBx,t),fB1);

// ---- Walen test ----
(function(){
  const A=axes({name:'walen-test-chart',x0:117,x1:573,y0:662,y1:1118,xmin:-90,xmax:55.5,ymin:-89,ymax:55.5});
  [[walenBlue,BLUE,'walen-point-blue'],[walenRed,RED,'walen-point-red'],[walenGreen,GREEN,'walen-point-green']].forEach(s=>{
    s[0].forEach(p=>{const c=mk('circle',{cx:A.sx(p[0]),cy:A.sy(p[1]),r:6.5,fill:s[1]},A.data);
      
      });});
  polyline(A,[[-90,walenSlope*-90+walenIntercept],[55.5,walenSlope*55.5+walenIntercept]],'#000',2.2,'walen-fit-line','14,8');
  const xv=range(-80,40,20);xticks(A,xv,xv.map(v=>fmt(v,0)));
  const yv=range(-80,40,20);yticks(A,yv,yv.map(v=>fmt(v,0)));
  frame(A);title(A,'WalenTest');
  const xl=mk('text',{x:345,y:1173,'font-size':16,'text-anchor':'middle',fill:'#000'},A.g);
  
  
  xl.innerHTML='V<tspan font-size="11" font-style="italic" dy="4">A</tspan><tspan dy="-4">(km/s)</tspan>';
  const yl=mk('text',{x:52,y:890,'font-size':16,'text-anchor':'middle',fill:'#000',transform:'rotate(-90 52 890)'},A.g);
  
  
  yl.innerHTML='V<tspan font-size="11" font-style="italic" font-family="Liberation Serif" dy="4">remaining</tspan><tspan dy="-4">(km/s)</tspan>';
  const bx=mk('g',{},A.g);
  legendBox(125,670,139,52,bx);
  txt('slope = '+walenSlope.toFixed(3),129,692,{size:18,anchor:'start'},bx);
  const rt=mk('text',{x:129,y:716,'font-size':18,fill:'#000'},bx);rt.innerHTML='<tspan font-style="italic" font-family="Liberation Serif">r</tspan> = '+walenR.toFixed(3);
})();

// ---- Time-series panels ----
function tsPanel(cfg){
  const A=axes({name:cfg.name,x0:117,x1:1686,y0:cfg.y0,y1:cfg.y0+188,xmin:0,xmax:117,ymin:cfg.ymin,ymax:cfg.ymax});
  xticks(A,timeTickMinutes,timeTickLabels);
  const yv=range(cfg.ymin,cfg.ymax,cfg.ystep);yticks(A,yv,yv.map(v=>fmt(v,cfg.dec||0)));
  if(cfg.title)title(A,cfg.title);
  return A;
}
// GSE
(function(){
  const A=tsPanel({name:'magnetic-field-gse-chart',title:'Magnetic Field (GSE Frame)',y0:1305,ymin:-8,ymax:6,ystep:2});
  polyline(A,[[0,0],[117,0]],'#000',1.3,'zero-line','8,6');
  polyline(A,gseBx,RED,2,'bx-line');polyline(A,gseBy,GREEN,2,'by-line');polyline(A,gseBz,BLUE,2,'bz-line');
  frame(A);ylabel(A,'B(nT)',65);
  const lg=mk('g',{},A.g);
  legendBox(1607,1312,72,71,lg);
  legendLine(1616,1324,RED,'Bx',lg);legendLine(1616,1346,GREEN,'By',lg);legendLine(1616,1369,BLUE,'Bz',lg);
})();
// FR
(function(){
  const A=tsPanel({name:'magnetic-field-flux-rope-chart',title:'Magnetic Field (Flux Rope Frame)',y0:1589,ymin:-8,ymax:8,ystep:2});
  polyline(A,[[0,0],[117,0]],'#000',1.3,'zero-line','8,6');
  polyline(A,frB,'#000',2,'b-magnitude-line');polyline(A,frBx,RED,2,'bx-prime-line');polyline(A,frBy,GREEN,2,'by-prime-line');polyline(A,frBz,BLUE,2,'bz-prime-line');
  frame(A);ylabel(A,'B(nT)',65);
  const lg=mk('g',{},A.g);
  legendBox(1604,1596,75,95,lg);
  legendLine(1612,1608,RED,"Bx'",lg);legendLine(1612,1630,GREEN,"By'",lg);legendLine(1612,1652,BLUE,"Bz'",lg);legendLine(1612,1675,'#000','|B|',lg);
})();
// PAD
(function(){
  const A=tsPanel({name:'pitch-angle-distribution-chart',title:'Suprathermal Electrons Pitch Angle Distribution (94.02eV)',y0:1872,ymin:0,ymax:180,ystep:60});
  const nR=padRows.length,rowDeg=180/nR;
  function jet(f){const c=v=>Math.round(255*Math.max(0,Math.min(1,v)));return `rgb(${c(1.5-Math.abs(4*f-3))},${c(1.5-Math.abs(4*f-2))},${c(1.5-Math.abs(4*f-1))})`;}
  padRows.forEach((row,r)=>{for(let c=0;c<row.length;c++){const ch=row[c];if(ch==='.')continue;const d=parseInt(ch,10);
    const t0=c*padBinMinutes,t1=t0+padBinMinutes;const a1=180-r*rowDeg,a0=a1-rowDeg;
    const x=A.sx(t0),w=A.sx(t1)-x,y=A.sy(a1),h=A.sy(a0)-y;
    const cell=mk('rect',{x:x.toFixed(1),y:y.toFixed(1),width:(w+0.5).toFixed(1),height:(h+0.5).toFixed(1),fill:jet(d/10+0.03)},A.data);
    
    }});
  frame(A);ylabel(A,'pitch angle (deg)',47);
  const cb=mk('rect',{x:1693,y:1872,width:9,height:188,fill:'url(#jetGrad)',stroke:'#000','stroke-width':1.5});
  
  
  cbarExponents.forEach((e,i)=>{const y=1872+i*188/5;
    mk('line',{x1:1693,x2:1697,y1:y,y2:y,stroke:'#000'});
    const t=mk('text',{x:1710,y:y+8,'font-size':18,fill:'#000'});
    
    
    t.innerHTML='10<tspan font-size="12" dy="-9">'+MINUS+Math.abs(e)+'</tspan>';});
})();
// Velocity
(function(){
  const A=tsPanel({name:'solar-wind-velocity-chart',title:'Solar Wind Velocity (GSE Frame)',y0:2155,ymin:-500,ymax:100,ystep:100});
  polyline(A,vswVx,RED,2,'vx-line');polyline(A,vswVy,GREEN,2,'vy-line');polyline(A,vswVz,BLUE,2,'vz-line');
  frame(A);ylabel(A,'Vsw(km/s)',42);
  const lg=mk('g',{},A.g);
  legendBox(1608,2162,71,72,lg);
  legendLine(1616,2175,RED,'Vx',lg);legendLine(1616,2197,GREEN,'Vy',lg);legendLine(1616,2220,BLUE,'Vz',lg);
})();
// Beta
(function(){
  const A=tsPanel({name:'plasma-beta-chart',title:'Plasma Beta',y0:2440,ymin:0,ymax:5,ystep:1});
  polyline(A,betaTotal,GREEN,2,'beta-line');polyline(A,betaProton,BLUE,2,'beta-proton-line');
  frame(A);
  const yl=mk('text',{x:75,y:2534,'font-size':14,'text-anchor':'middle',fill:'#000',transform:'rotate(-90 75 2534)'},A.g);
  
  
  yl.innerHTML='<tspan font-style="italic" font-family="Liberation Serif">β<tspan font-size="9" dy="3">p</tspan></tspan><tspan dy="-3"> and </tspan><tspan font-style="italic" font-family="Liberation Serif">β</tspan>';
  const lg=mk('g',{},A.g);
  legendBox(1611,2446,68,58,lg);
  legendLine(1619,2461,BLUE,'βp',lg,true);legendLine(1619,2487,GREEN,'β',lg,true);
})();
// Density
(function(){
  const A=tsPanel({name:'proton-density-chart',title:'Proton Number Density',y0:2725,ymin:0,ymax:30,ystep:5});
  polyline(A,densityNp,BLUE,2,'density-line');
  frame(A);ylabel(A,'Np(#/cc)',66);
})();
// Temperature
(function(){
  const A=tsPanel({name:'proton-temperature-chart',title:'',y0:3007,ymin:0,ymax:0.5,ystep:0.1,dec:1});
  const t=mk('text',{x:901,y:2996,'font-size':21,'text-anchor':'middle',fill:'#000'},A.g);
  
  
  t.innerHTML='Proton Temperature and <tspan font-style="italic" font-family="Liberation Serif">T<tspan font-size="13" dy="5">e</tspan><tspan dy="-5">/T</tspan><tspan font-size="13" dy="5">p</tspan></tspan>';
  polyline(A,tempTp,BLUE,2,'tp-line');
  const R={sx:A.sx,sy:v=>A.o.y1-v/5*(A.o.y1-A.o.y0),data:A.data};
  polyline(R,tempRatio,RED,2,'te-tp-ratio-line');
  range(0,5,1).forEach(v=>{const y=R.sy(v);const l=txt(String(v),1694,y+7,{size:16,anchor:'start',fill:RED},A.g);
    
    });
  frame(A);
  const yl=mk('text',{x:60,y:3101,'font-size':16,'text-anchor':'middle',fill:'#000',transform:'rotate(-90 60 3101)'},A.g);
  
  
  yl.innerHTML='Tp(10<tspan font-size="11" dy="-6">6</tspan><tspan dy="6">K)</tspan>';
  const yr=mk('text',{x:1728,y:3101,'font-size':18,'text-anchor':'middle','fill':RED,'font-style':'italic','font-family':'Liberation Serif',transform:'rotate(-90 1728 3101)'},A.g);
  
  
  yr.innerHTML='T<tspan font-size="12" dy="4">e</tspan><tspan dy="-4">/T</tspan><tspan font-size="12" dy="4">p</tspan>';
  const lg=mk('g',{},A.g);
  legendBox(124,3014,72,29,lg);legendLine(131,3029,BLUE,'Tp',lg);
  const lg2=mk('g',{},A.g);
  legendBox(1589,3015,90,32,lg2);legendLine(1596,3031,RED,'Te/Tp',lg2,true);
})();
</script>
</body></html>
